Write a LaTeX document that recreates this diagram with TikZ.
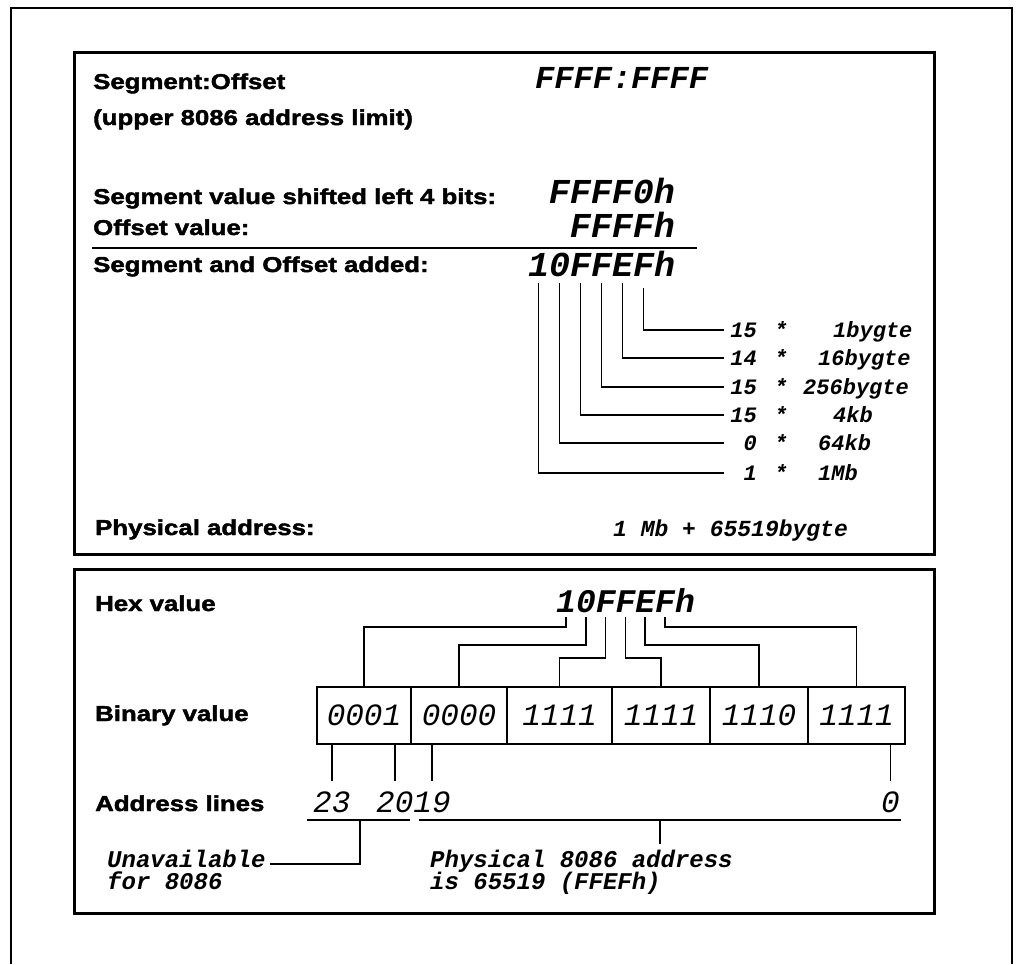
\documentclass[tikz,border=0pt]{standalone}
\usepackage{fontspec}
\setmainfont{Liberation Sans}
\newfontfamily\labfont{Liberation Sans Bold}[FakeStretch=1.2, FakeBold=2]
\newfontfamily\mono{Liberation Mono}
\usetikzlibrary{calc}
\begin{document}
\begin{tikzpicture}[x=1pt,y=-1pt,
  lab/.style={font=\labfont\fontsize{21.5}{26}\selectfont, inner sep=0pt, anchor=base west},
  hexv/.style={font=\mono\fontsize{35}{40}\selectfont\bfseries\itshape, inner sep=0pt, anchor=base east},
  hexs/.style={font=\mono\fontsize{33}{40}\selectfont\bfseries\itshape, inner sep=0pt, anchor=base west},
  rtxt/.style={font=\mono\fontsize{22}{26}\selectfont\bfseries\itshape, inner sep=0pt, text height=14pt, text depth=0pt},
  rnum/.style={rtxt, text width=33pt, align=right, anchor=east},
  rval/.style={rtxt, anchor=west},
  bin/.style={draw, line width=1.5pt, inner sep=0pt, minimum height=57pt, font=\mono\fontsize{31}{36}\selectfont\itshape, text height=20pt, text depth=0pt},
  addr/.style={font=\mono\fontsize{31}{36}\selectfont\itshape, inner xsep=0pt, inner ysep=10pt, anchor=base west},
  captxt/.style={font=\mono\fontsize{24}{28}\selectfont\bfseries\itshape, inner xsep=0pt, anchor=base west},
  wire/.style={line width=1.6pt},
  boxline/.style={line width=3pt}
]
\useasboundingbox (0,0) rectangle (1017,964);
% outer frame
\draw[line width=1.3pt] (11,964) -- (11,8) -- (1012,8) -- (1012,964);
% boxes
\draw[boxline] (74,52) rectangle (934,554);
\draw[boxline] (74,569) rectangle (934,913);

% ---------- box 1 ----------
\node[lab] (so) at (93,89) {Segment:Offset};
\node[font=\mono\fontsize{32}{36}\selectfont\bfseries\itshape, inner sep=0pt, anchor=base west] (ff) at (535,88) {FFFF:FFFF};
\node[lab] (up) at (93,125) {(upper 8086 address limit)};
\node[lab] (sh) at (93,204) {Segment value shifted left 4 bits:};
\node[hexv] (v1) at (675,203) {FFFF0h};
\node[lab] (ov) at (93,235) {Offset value:};
\node[hexv] (v2) at (675,237) {FFFFh};
\coordinate (sl1) at (92,248);
\coordinate (sl2) at (697,248);
\draw[wire] (sl1) -- (sl2);
\node[lab] (ad) at (93,272) {Segment and Offset added:};
\node[hexv, anchor=base west] (sum) at (528,276) {10FFEFh};
\coordinate (s1) at ($(sum.base west)+(10.5,7)$);
\coordinate (s2) at ($(sum.base west)+(31.5,7)$);
\coordinate (s3) at ($(sum.base west)+(52.5,7)$);
\coordinate (s4) at ($(sum.base west)+(73.5,7)$);
\coordinate (s5) at ($(sum.base west)+(94.5,7)$);
\coordinate (s6) at ($(sum.base west)+(115.5,12)$);

\node[rnum] (n1) at (757,330) {15};
\node[rtxt] (t1) at (781,330) {*};
\node[rval] (w1) at (833,330) {1bygte};
\node[rnum] (n2) at (757,358) {14};
\node[rtxt] (t2) at (781,358) {*};
\node[rval] (w2) at (818,358) {16bygte};
\node[rnum] (n3) at (757,387) {15};
\node[rtxt] (t3) at (781,387) {*};
\node[rval] (w3) at (803,387) {256bygte};
\node[rnum] (n4) at (757,415) {15};
\node[rtxt] (t4) at (781,415) {*};
\node[rval] (w4) at (833,415) {4kb};
\node[rnum] (n5) at (757,443) {0};
\node[rtxt] (t5) at (781,443) {*};
\node[rval] (w5) at (818,443) {64kb};
\node[rnum] (n6) at (757,473) {1};
\node[rtxt] (t6) at (781,473) {*};
\node[rval] (w6) at (818,473) {1Mb};

\draw[wire] (s6) |- (n1.west);
\draw[wire] (s5) |- (n2.west);
\draw[wire] (s4) |- (n3.west);
\draw[wire] (s3) |- (n4.west);
\draw[wire] (s2) |- (n5.west);
\draw[wire] (s1) |- (n6.west);

\node[lab] (pa) at (95,535) {Physical address:};
\node[font=\mono\fontsize{23}{28}\selectfont\bfseries\itshape, inner sep=0pt, anchor=base west] (pv) at (613,536) {1 Mb + 65519bygte};

% ---------- box 2 ----------
\node[lab] (hv) at (95,611) {Hex value};
\node[hexs] (hx) at (556,612) {10FFEFh};
\coordinate (h1) at ($(hx.base west)+(9.9,5)$);
\coordinate (h2) at ($(hx.base west)+(29.7,5)$);
\coordinate (h3) at ($(hx.base west)+(49.5,5)$);
\coordinate (h4) at ($(hx.base west)+(69.3,5)$);
\coordinate (h5) at ($(hx.base west)+(89.1,5)$);
\coordinate (h6) at ($(hx.base west)+(108.9,5)$);

\node[lab] (bv) at (95,721) {Binary value};
\node[bin, minimum width=94pt]  (b1) at (364,715.5) {0001};
\node[bin, minimum width=96pt]  (b2) at (459,715.5) {0000};
\node[bin, minimum width=105pt] (b3) at (559.5,715.5) {1111};
\node[bin, minimum width=98pt]  (b4) at (661,715.5) {1111};
\node[bin, minimum width=98pt]  (b5) at (759,715.5) {1110};
\node[bin, minimum width=97pt]  (b6) at (856.5,715.5) {1111};

\draw[wire] (h1) -- ++(0,10) -| (b1.north);
\draw[wire] (h2) -- ++(0,28) -| (b2.north);
\draw[wire] (h3) -- ++(0,41) -| (b3.north);
\draw[wire] (h4) -- ++(0,41) -| (b4.north);
\draw[wire] (h5) -- ++(0,28) -| (b5.north);
\draw[wire] (h6) -- ++(0,10) -| (b6.north);

\node[lab] (al) at (95,811) {Address lines};
\node[addr] (a23) at (313,812) {23};
\node[addr] (a20) at (376,812) {20};
\node[addr] (a19) at (413.2,812) {19};
\node[addr] (a0) at (881,812) {0};
\draw[wire] (a23.north) -- (a23.north |- b1.south);
\draw[wire] (a20.north) -- (a20.north |- b1.south);
\draw[wire] (a19.north) -- (a19.north |- b2.south);
\draw[wire] (a0.north) -- (a0.north |- b6.south);

\coordinate (ul1) at (307,820);
\coordinate (ul2) at (410,820);
\coordinate (ulm) at (360,820);
\coordinate (ur1) at (419,820);
\coordinate (ur2) at (901,820);
\coordinate (urm) at (660,820);
\draw[wire] (ul1) -- (ul2);
\draw[wire] (ur1) -- (ur2);

\node[captxt] (un) at (107,867) {Unavailable};
\node[captxt] (un2) at (107,889) {for 8086};
\node[captxt, inner ysep=5pt] (ph) at (430,867) {Physical 8086 address};
\node[captxt] (ph2) at (430,889) {is 65519 (FFEFh)};
\draw[wire, shorten >=4pt] (ulm) |- ([yshift=3pt]un.base east);
\draw[wire] (urm) -- (urm |- ph.north);
\end{tikzpicture}
\end{document}
